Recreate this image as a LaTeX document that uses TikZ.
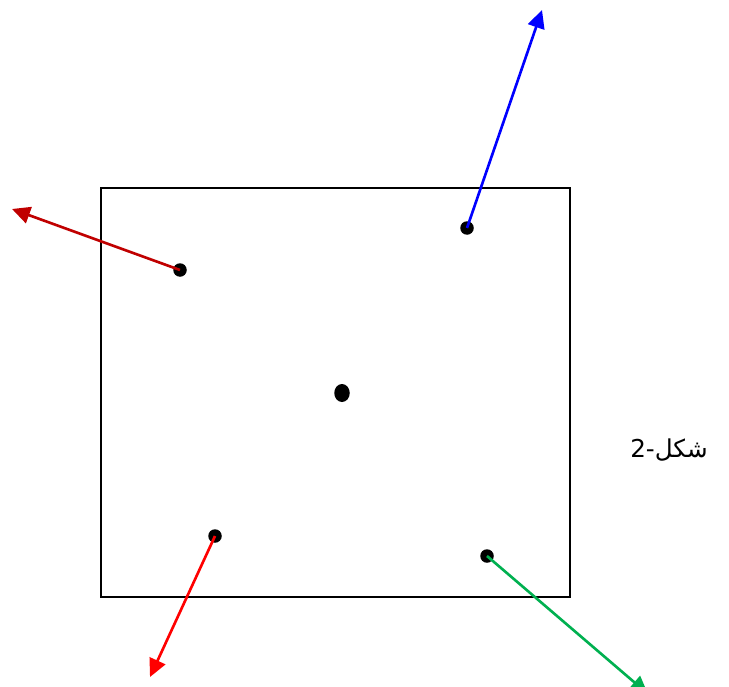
\documentclass[tikz,border=0pt]{standalone}
\usepackage{fontspec}
\newfontfamily\persianfont[Script=Arabic]{DejaVu Sans}
\newfontfamily\latinsans{DejaVu Sans}
\TeXXeTstate=1
\usetikzlibrary{arrows.meta, positioning, shapes.geometric}
\definecolor{meuvermelhoescuro}{RGB}{192, 0, 0}
\definecolor{meuverde}{RGB}{0, 176, 80}

\begin{document}
\begin{tikzpicture}[
                x=0.02cm, y=-0.02cm,
                dot/.style={circle, fill=black, inner sep=0pt, minimum size=0.27cm},
                bigdot/.style={ellipse, fill=black, inner sep=0pt, minimum width=0.31cm, minimum height=0.36cm},
                arrow/.style={-{Triangle[length=0.36cm, width=0.34cm]}, line width=1.5pt}
            ]
                \useasboundingbox (0,0) rectangle (729,686);
                \draw[line width=1.5pt] (101,188) rectangle (570,597);

                \node[bigdot] (centro) at (342,393) {};
                \node[dot] (a) at (180,270) {};
                \node[dot] (b) at (467,228) {};
                \node[dot] (c) at (215,536) {};
                \node[dot] (d) at (487,556) {};

                \coordinate (pa) at (12,209);
                \coordinate (pb) at (542,10);
                \coordinate (pc) at (150,677);
                \coordinate (pd) at (648,694);

                \draw[arrow, color=meuvermelhoescuro] (a.center) -- (pa);
                \draw[arrow, color=blue] (b.center) -- (pb);
                \draw[arrow, color=red] (c.center) -- (pc);
                \draw[arrow, color=meuverde] (d.center) -- (pd);

                \node[font=\fontsize{14}{16}\selectfont] (rotulo) at (669,450) {{\latinsans 2-}{\persianfont\beginR شکل\endR}};
            \end{tikzpicture}
\end{document}
